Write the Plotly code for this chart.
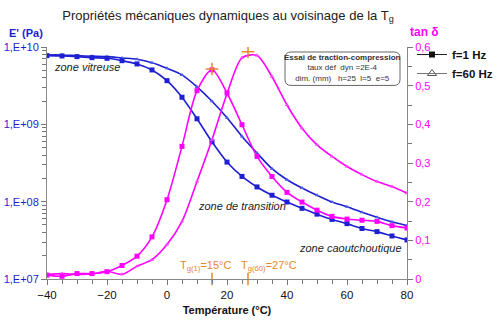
import plotly.graph_objects as go

# Temperatures (°C)
temperature = [-40, -35, -30, -25, -20, -15, -10, -5, 0, 5, 10, 15, 20,
               25, 30, 35, 40, 45, 50, 55, 60, 65, 70, 75, 80]

# Storage modulus E' (Pa)
e_1hz = [7.73e9, 7.66e9, 7.50e9, 7.28e9, 7.14e9, 6.65e9, 6.04e9, 5.05e9,
         3.67e9, 2.24e9, 1.18e9, 5.94e8, 3.25e8, 2.12e8, 1.55e8, 1.21e8,
         9.9e7, 8.2e7, 6.9e7, 5.9e7, 5.2e7, 4.5e7, 4.1e7, 3.6e7, 3.2e7]
e_60hz = [7.89e9, 7.89e9, 7.73e9, 7.59e9, 7.50e9, 7.21e9, 6.93e9, 6.27e9,
          5.31e9, 4.36e9, 3.05e9, 1.99e9, 1.22e9, 6.97e8, 4.26e8, 2.67e8,
          1.92e8, 1.50e8, 1.21e8, 9.9e7, 8.6e7, 7.3e7, 6.3e7, 5.5e7, 4.9e7]

# Loss factor tan delta
tan_1hz = [0.010, 0.007, 0.014, 0.014, 0.019, 0.035, 0.059, 0.109, 0.205,
           0.343, 0.487, 0.541, 0.481, 0.399, 0.317, 0.265, 0.224, 0.199,
           0.178, 0.162, 0.155, 0.152, 0.149, 0.138, 0.132]
tan_60hz = [0.012, 0.014, 0.012, 0.013, 0.020, 0.012, 0.033, 0.050, 0.089,
            0.149, 0.252, 0.360, 0.479, 0.572, 0.578, 0.523, 0.450, 0.390,
            0.347, 0.317, 0.291, 0.270, 0.252, 0.239, 0.222]

# Glass transition temperatures and the tan delta peaks
tg_temps = [15, 27]
tg_peaks = [0.543, 0.588]
tg_labels = ["T<sub>g(1)</sub>=15°C", "T<sub>g(60)</sub>=27°C"]

# Axis tick labels
e_tickvals = [1e7, 1e8, 1e9, 1e10]
e_ticktext = ["1,E+07", "1,E+08", "1,E+09", "1,E+10"]
tan_tickvals = [0, 0.1, 0.2, 0.3, 0.4, 0.5, 0.6]
tan_ticktext = ["0", "0,1", "0,2", "0,3", "0,4", "0,5", "0,6"]

BLUE = "#1e1ed2"
BLUE_LIGHT = "#4a5ee8"
PINK = "#ff00ff"
PINK_LIGHT = "#ff44ff"
ORANGE = "#e8872a"
FONT = "Liberation Sans, Arial, sans-serif"

fig = go.Figure()

fig.add_trace(go.Scatter(
    x=temperature, y=e_60hz, mode="lines+markers", showlegend=False,
    line=dict(color=BLUE, width=1.6, shape="spline", smoothing=0.8),
    marker=dict(symbol="triangle-up", size=4, color=BLUE_LIGHT)))
fig.add_trace(go.Scatter(
    x=temperature, y=e_1hz, mode="lines+markers", showlegend=False,
    line=dict(color=BLUE, width=1.6, shape="spline", smoothing=0.8),
    marker=dict(symbol="square", size=5, color=BLUE)))
fig.add_trace(go.Scatter(
    x=temperature, y=tan_60hz, yaxis="y2", mode="lines+markers", showlegend=False,
    line=dict(color=PINK, width=1.6, shape="spline", smoothing=0.8),
    marker=dict(symbol="triangle-up", size=4, color=PINK_LIGHT)))
fig.add_trace(go.Scatter(
    x=temperature, y=tan_1hz, yaxis="y2", mode="lines+markers", showlegend=False,
    line=dict(color=PINK, width=1.6, shape="spline", smoothing=0.8),
    marker=dict(symbol="square", size=5, color=PINK)))

# Peak markers and Tg ticks on the temperature axis
fig.add_trace(go.Scatter(
    x=tg_temps, y=tg_peaks, yaxis="y2", mode="markers", showlegend=False,
    marker=dict(symbol="cross-thin", size=9, line=dict(color=ORANGE, width=1.5))))
fig.add_trace(go.Scatter(
    x=tg_temps, y=[0, 0], yaxis="y2", mode="markers", showlegend=False,
    cliponaxis=False,
    marker=dict(symbol="line-ns", size=9, line=dict(color=ORANGE, width=1.5))))

# Legend entries
fig.add_trace(go.Scatter(
    x=[None], y=[None], mode="lines+markers", name="f=1 Hz",
    line=dict(color="#222222", width=1),
    marker=dict(symbol="square", size=6, color="#111111")))
fig.add_trace(go.Scatter(
    x=[None], y=[None], mode="lines+markers", name="f=60 Hz",
    line=dict(color="#777777", width=1),
    marker=dict(symbol="triangle-up-open", size=8, color="#555555")))

annotations = [
    dict(text="zone vitreuse", x=-38.5, y=9.74, xref="x", yref="y",
         xanchor="left", yanchor="middle", showarrow=False,
         font=dict(size=11, style="italic", color="#222222")),
    dict(text="zone de transition", x=9.8, y=7.95, xref="x", yref="y",
         xanchor="left", yanchor="middle", showarrow=False,
         font=dict(size=11, style="italic", color="#222222")),
    dict(text="zone caoutchoutique", x=79, y=7.395, xref="x", yref="y",
         xanchor="right", yanchor="middle", showarrow=False,
         font=dict(size=11, style="italic", color="#222222")),
    dict(text="<b>Essai de traction-compression</b><br>taux déf  dyn =2E-4"
              "<br>dim. (mm)   h=25  l=5  e=5",
         x=(342.5 - 47) / 360, y=(279.5 - 68.5) / 232.5, xref="paper", yref="paper",
         xanchor="center", yanchor="middle", showarrow=False, align="center",
         font=dict(size=8, color="#333333")),
    dict(text="E' (Pa)", x=-40 / 360, y=(279.5 - 33) / 232.5, xref="paper",
         yref="paper", xanchor="left", yanchor="middle", showarrow=False,
         font=dict(size=11, color=BLUE, weight="bold")),
    dict(text="tan δ", x=(424 - 47) / 360, y=(279.5 - 32) / 232.5, xref="paper",
         yref="paper", xanchor="center", yanchor="middle", showarrow=False,
         font=dict(size=12, color=PINK, weight="bold")),
]
for t, lab, xpos in zip(tg_temps, tg_labels, [178, 239]):
    annotations.append(dict(
        text=lab, x=(xpos - 47) / 360, y=(279.5 - 266) / 232.5, xref="paper",
        yref="paper", xanchor="left", yanchor="middle", showarrow=False,
        font=dict(size=11, color=ORANGE)))

# Rounded frame around the test conditions
x0, x1 = (285 - 47) / 360, (400 - 47) / 360
y0, y1 = (279.5 - 85.5) / 232.5, (279.5 - 52) / 232.5
rx, ry = 6 / 360, 6 / 232.5
box_path = (f"M {x0 + rx} {y1} L {x1 - rx} {y1} Q {x1} {y1} {x1} {y1 - ry} "
            f"L {x1} {y0 + ry} Q {x1} {y0} {x1 - rx} {y0} "
            f"L {x0 + rx} {y0} Q {x0} {y0} {x0} {y0 + ry} "
            f"L {x0} {y1 - ry} Q {x0} {y1} {x0 + rx} {y1} Z")

fig.update_layout(
    width=500, height=323,
    margin=dict(l=47, r=93, t=47, b=43.5, autoexpand=False),
    paper_bgcolor="white", plot_bgcolor="white",
    font=dict(family=FONT, size=11, color="#111111"),
    title=dict(text="Propriétés mécaniques dynamiques au voisinage de la T<sub>g</sub>",
               x=228 / 500, xanchor="center", y=1 - 15 / 323, yanchor="middle",
               font=dict(size=13, color="#222222")),
    xaxis=dict(range=[-40, 80], tickvals=[-40, -20, 0, 20, 40, 60, 80],
               ticks="outside", ticklen=5, tickcolor="#777777",
               showline=True, linecolor="#888888", linewidth=1,
               showgrid=False, zeroline=False, automargin=False,
               minor=dict(dtick=5, ticks="outside", ticklen=4, tickcolor="#777777"),
               tickfont=dict(size=11.5, color="#111111"),
               title=dict(text="<b>Température (°C)</b>", standoff=6,
                          font=dict(size=11, color="#111111"))),
    yaxis=dict(type="log", range=[7, 10], tickvals=e_tickvals, ticktext=e_ticktext,
               ticks="outside", ticklen=5, tickcolor="#777777",
               showline=True, linecolor="#888888", linewidth=1,
               showgrid=False, zeroline=False, automargin=False,
               minor=dict(ticks="outside", ticklen=4, tickcolor="#777777",
                          tickvals=[k * 10 ** p for p in (7, 8, 9) for k in range(2, 10)]),
               tickfont=dict(size=11, color=BLUE)),
    yaxis2=dict(overlaying="y", side="right", range=[0, 0.6],
                tickvals=tan_tickvals, ticktext=tan_ticktext,
                ticks="outside", ticklen=5, tickcolor="#777777",
                showline=True, linecolor="#888888", linewidth=1,
                showgrid=False, zeroline=False, automargin=False,
                minor=dict(dtick=0.05, ticks="outside", ticklen=4, tickcolor="#777777"),
                tickfont=dict(size=11, color=PINK)),
    legend=dict(x=(412 - 47) / 360, y=(279.5 - 40) / 232.5, xanchor="left",
                yanchor="top", bgcolor="rgba(0,0,0,0)", itemwidth=30,
                font=dict(size=11.5, color="#111111", weight="bold"),
                tracegroupgap=0),
    shapes=[dict(type="path", path=box_path, xref="paper", yref="paper",
                 line=dict(color="#666666", width=1), fillcolor="white", layer="below")],
    annotations=annotations,
)

fig.write_html("out.html")
